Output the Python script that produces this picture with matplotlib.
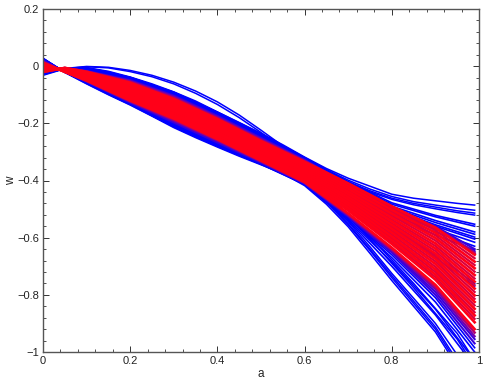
import matplotlib
matplotlib.use('Agg')
import matplotlib.pyplot as plt
from matplotlib.ticker import MultipleLocator

a_fine = [0, 0.05, 0.1, 0.15, 0.2, 0.25, 0.3, 0.35, 0.4, 0.45, 0.5, 0.55, 0.6, 0.65, 0.7, 0.75, 0.8, 0.85, 0.9, 0.95, 0.99]
a = [0, 0.05, 0.1, 0.2, 0.3, 0.4, 0.5, 0.6, 0.7, 0.8, 0.9, 0.99]

x_ticks = [0, 0.2, 0.4, 0.6, 0.8, 1]
x_labels = ['0', '0.2', '0.4', '0.6', '0.8', '1']
y_ticks = [0.2, 0, -0.2, -0.4, -0.6, -0.8, -1]
y_labels = ['0.2', '0', '\u22120.2', '\u22120.4', '\u22120.6', '\u22120.8', '\u22121']

# edge curves, read more closely because they show on their own
edge_curves = [
    [-.030, -.008, -.001, -.004, -.015, -.032, -.056, -.087, -.125, -.171, -.224, -.279, -.335, -.392, -.450, -.505, -.560, -.610, -.660, -.715, -.760],
    [-.032, -.009, -.002, -.006, -.019, -.037, -.062, -.095, -.134, -.180, -.232, -.288, -.345, -.402, -.460, -.515, -.570, -.620, -.670, -.725, -.770],
    [-.028, -.008, -.005, -.018, -.038, -.062, -.090, -.122, -.160, -.197, -.235, -.275, -.318, -.358, -.392, -.420, -.448, -.462, -.471, -.480, -.486],
    [-.027, -.008, -.006, -.020, -.040, -.065, -.093, -.126, -.163, -.200, -.238, -.279, -.321, -.362, -.399, -.430, -.456, -.474, -.486, -.497, -.504],
    [-.026, -.009, -.007, -.021, -.042, -.067, -.096, -.129, -.166, -.203, -.241, -.282, -.324, -.366, -.404, -.436, -.462, -.480, -.493, -.506, -.514],
    [-.026, -.009, -.008, -.022, -.044, -.070, -.099, -.132, -.169, -.206, -.244, -.285, -.327, -.369, -.408, -.440, -.466, -.485, -.499, -.512, -.521],
    [.028, -.022, -.062, -.100, -.136, -.175, -.215, -.250, -.283, -.315, -.345, -.375, -.418, -.483, -.562, -.655, -.750, -.840, -.930, -1.05, -1.17],
    [.027, -.021, -.060, -.098, -.134, -.173, -.212, -.247, -.280, -.312, -.342, -.372, -.412, -.476, -.555, -.645, -.740, -.830, -.920, -1.04, -1.16],
    [.027, -.021, -.060, -.098, -.134, -.173, -.212, -.247, -.280, -.312, -.342, -.372, -.410, -.473, -.551, -.640, -.733, -.822, -.912, -1.03, -1.15],
    [.026, -.021, -.059, -.096, -.132, -.170, -.209, -.243, -.276, -.308, -.338, -.368, -.405, -.467, -.544, -.632, -.725, -.812, -.900, -1.01, -1.13],
    [.024, -.020, -.057, -.094, -.130, -.166, -.204, -.238, -.270, -.301, -.330, -.360, -.394, -.452, -.524, -.605, -.690, -.775, -.865, -.955, -1.05],
    [.024, -.020, -.056, -.093, -.129, -.165, -.202, -.236, -.268, -.299, -.328, -.358, -.391, -.448, -.518, -.596, -.678, -.760, -.848, -.935, -1.03],
]

blue_curves = [
    [-.026, -.008, -.008, -.039, -.091, -.161, -.237, -.320, -.405, -.478, -.522, -.553],
    [-.026, -.008, -.009, -.040, -.092, -.162, -.238, -.321, -.408, -.483, -.527, -.560],
    [-.025, -.008, -.010, -.041, -.093, -.163, -.240, -.322, -.410, -.490, -.540, -.580],
    [-.025, -.008, -.011, -.042, -.094, -.164, -.241, -.323, -.412, -.495, -.547, -.588],
    [-.024, -.007, -.012, -.043, -.095, -.166, -.243, -.324, -.414, -.500, -.555, -.598],
    [-.024, -.007, -.013, -.044, -.096, -.167, -.244, -.324, -.416, -.505, -.560, -.605],
    [-.023, -.007, -.014, -.045, -.098, -.169, -.245, -.325, -.418, -.510, -.570, -.616],
    [-.023, -.007, -.015, -.046, -.099, -.170, -.247, -.326, -.420, -.518, -.580, -.630],
    [-.022, -.007, -.016, -.047, -.100, -.172, -.248, -.326, -.422, -.525, -.590, -.644],
    [.024, -.021, -.058, -.133, -.210, -.279, -.343, -.414, -.540, -.700, -.870, -1.05],
    [.023, -.021, -.057, -.132, -.207, -.276, -.342, -.413, -.535, -.685, -.850, -1.03],
    [.022, -.020, -.056, -.131, -.204, -.273, -.341, -.412, -.530, -.670, -.825, -1.00],
    [.021, -.020, -.055, -.129, -.200, -.270, -.339, -.411, -.528, -.660, -.810, -.985],
]

indigo_curves = [
    [-.022, -.007, -.017, -.049, -.103, -.174, -.251, -.328, -.416, -.498, -.560, -.640],
    [.020, -.020, -.054, -.127, -.197, -.267, -.337, -.410, -.526, -.652, -.800, -.970],
    [.018, -.020, -.053, -.126, -.194, -.264, -.336, -.409, -.524, -.648, -.790, -.955],
]

violet_curves = [
    [-.021, -.006, -.018, -.052, -.107, -.178, -.255, -.330, -.413, -.495, -.565, -.650],
    [.016, -.020, -.052, -.124, -.191, -.261, -.334, -.408, -.522, -.644, -.780, -.945],
]

magenta_curves = [
    [-.020, -.006, -.019, -.055, -.111, -.182, -.259, -.333, -.412, -.492, -.565, -.655],
    [.014, -.020, -.051, -.122, -.187, -.258, -.332, -.407, -.519, -.640, -.772, -.932],
]

crimson_curves = [
    [-.019, -.007, -.022, -.061, -.118, -.188, -.265, -.338, -.415, -.497, -.574, -.672],
    [-.016, -.008, -.024, -.066, -.124, -.195, -.271, -.345, -.425, -.510, -.592, -.696],
    [-.013, -.009, -.027, -.072, -.130, -.201, -.277, -.351, -.434, -.523, -.610, -.719],
    [-.010, -.011, -.030, -.078, -.137, -.208, -.284, -.358, -.444, -.537, -.629, -.743],
    [-.007, -.012, -.032, -.083, -.143, -.214, -.290, -.364, -.453, -.550, -.647, -.766],
    [-.004, -.013, -.035, -.089, -.149, -.220, -.296, -.370, -.463, -.563, -.665, -.790],
    [-.001, -.014, -.038, -.095, -.155, -.227, -.302, -.377, -.472, -.576, -.683, -.814],
    [.001, -.015, -.040, -.100, -.162, -.233, -.309, -.383, -.482, -.589, -.702, -.837],
    [.005, -.017, -.043, -.106, -.168, -.240, -.315, -.389, -.491, -.602, -.720, -.861],
    [.008, -.018, -.046, -.112, -.174, -.246, -.321, -.396, -.501, -.616, -.738, -.884],
]

red_curves = [
    [-.020, -.006, -.020, -.058, -.115, -.185, -.262, -.335, -.410, -.490, -.565, -.660],
    [-.017, -.007, -.023, -.064, -.121, -.191, -.268, -.341, -.420, -.503, -.583, -.684],
    [-.014, -.009, -.025, -.069, -.127, -.198, -.274, -.348, -.429, -.516, -.601, -.707],
    [-.011, -.010, -.028, -.075, -.134, -.204, -.281, -.354, -.439, -.530, -.620, -.731],
    [-.008, -.011, -.031, -.080, -.140, -.211, -.287, -.361, -.448, -.543, -.638, -.754],
    [-.006, -.013, -.033, -.086, -.146, -.217, -.293, -.367, -.458, -.556, -.656, -.778],
    [-.003, -.014, -.036, -.092, -.152, -.223, -.299, -.373, -.467, -.569, -.674, -.802],
    [.000, -.015, -.039, -.097, -.158, -.230, -.305, -.380, -.477, -.582, -.692, -.825],
    [.003, -.016, -.042, -.103, -.165, -.236, -.312, -.386, -.486, -.596, -.711, -.849],
    [.006, -.017, -.045, -.109, -.171, -.243, -.318, -.392, -.496, -.609, -.729, -.872],
    [.009, -.019, -.047, -.114, -.177, -.249, -.324, -.399, -.505, -.622, -.747, -.896],
    [.012, -.020, -.050, -.120, -.183, -.255, -.330, -.405, -.515, -.635, -.765, -.920],
]

plt.rcParams['font.family'] = ['Liberation Sans', 'DejaVu Sans']

fig = plt.figure(figsize=(4.85, 3.82), dpi=100)
ax = fig.add_axes([43 / 485, 1 - 352 / 382, 436 / 485, 343 / 382])

for w in edge_curves:
    ax.plot(a_fine, w, color='#0000ff', lw=1.1)
for w in blue_curves:
    ax.plot(a, w, color='#0000ff', lw=1.2)
for w in indigo_curves:
    ax.plot(a, w, color='#3a00dc', lw=1.5)
for w in violet_curves:
    ax.plot(a, w, color='#7000b0', lw=1.6)
for w in magenta_curves:
    ax.plot(a, w, color='#b00070', lw=1.8)
for w in crimson_curves:
    ax.plot(a, w, color='#d80040', lw=1.6)
for w in red_curves:
    ax.plot(a, w, color='#ff0018', lw=1.9)

ax.set_xlim(0, 1)
ax.set_ylim(-1, 0.2)
ax.set_xticks(x_ticks)
ax.set_xticklabels(x_labels)
ax.set_yticks(y_ticks)
ax.set_yticklabels(y_labels)
ax.xaxis.set_minor_locator(MultipleLocator(0.04))
ax.yaxis.set_minor_locator(MultipleLocator(0.04))
ax.tick_params(which='major', direction='in', top=True, right=True, length=4.5, width=0.7,
               color='#333333', labelsize=8, labelcolor='#222222', pad=3)
ax.tick_params(which='minor', direction='in', top=True, right=True, length=2.2, width=0.6, color='#333333')
for s in ax.spines.values():
    s.set_linewidth(1.0)
    s.set_color('#555555')
ax.set_xlabel('a', fontsize=8.5, labelpad=1.5, color='#222222')
ax.set_ylabel('w', fontsize=8.5, labelpad=0, color='#222222')

fig.savefig('out.png', dpi=100)
